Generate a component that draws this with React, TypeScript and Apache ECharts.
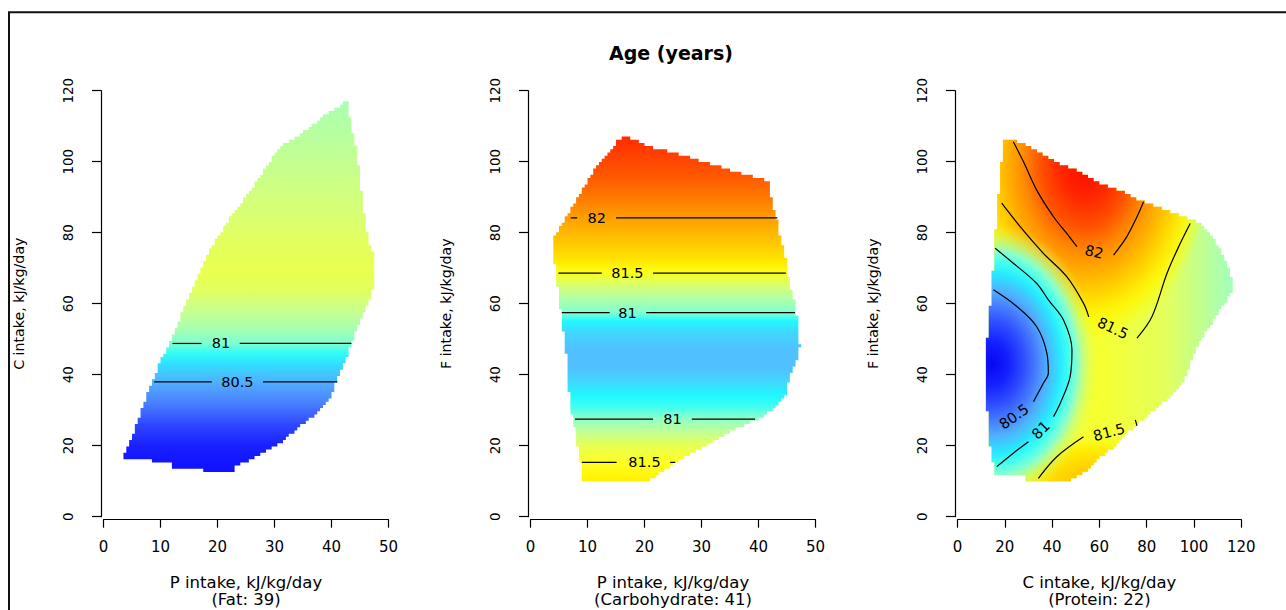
import React, { useEffect, useRef } from 'react';
import * as echarts from 'echarts';

const FONT = '"DejaVu Sans", Verdana, sans-serif';

// ---------- axes / texts ----------
const mainTitle = 'Age (years)';
const yMax = 120;
const yStep = 20;
const xMaxs = [50, 50, 120];
const xSteps = [10, 10, 20];
const xTitles = [
  'P intake, kJ/kg/day\n(Fat: 39)',
  'P intake, kJ/kg/day\n(Carbohydrate: 41)',
  'C intake, kJ/kg/day\n(Protein: 22)',
];
const yTitles = ['C intake, kJ/kg/day', 'F intake, kJ/kg/day', 'F intake, kJ/kg/day'];

// image cell size of the fitted surface (x units, y units) per panel
const cellX = [0.5, 0.5, 1.2];
const cellY = [0.9, 0.9, 0.9];

// ---------- panel 1 (P vs C) ----------
const p1Boundary: number[][] = [
  [42.8, 117.2], [43.2, 113], [44.5, 101.9], [45.6, 87.3], [46.5, 77.9], [47.7, 72.8], [47.7, 65.7],
  [46.2, 59.2], [44.5, 53.5], [43.6, 48.8], [42.7, 45], [40.9, 38], [39.8, 33.8], [37.4, 29.1],
  [34.5, 25.4], [31, 20.7], [26.9, 16.9], [22.9, 14.1], [22.9, 12.7], [17.7, 12.7], [17.7, 13.8],
  [12.1, 13.8], [12.1, 15], [8.3, 15], [8.3, 16.3], [3.6, 16.3], [3.6, 17.4], [5.3, 23.5],
  [6.7, 30.5], [8.2, 36.6], [9.6, 42.3], [12, 50.7], [14.3, 59.2], [17, 69.5], [19.3, 77],
  [22.8, 85.5], [26.3, 93], [29.8, 101.4], [31.6, 105.2], [34.5, 107.5], [39.2, 113.6],
];
const p1StopY = [13, 20, 26, 32, 38, 43, 46, 49, 53, 58, 64, 69, 78, 90, 105, 118];
const p1StopColor = [
  '#1010ff', '#1820ff', '#3048ff', '#4a80ff', '#50b0ff', '#30e0ff', '#30fcf8', '#80ffd0',
  '#a8ffb0', '#c8ff90', '#e2ff5c', '#eaff50', '#e2ff60', '#d2ff7e', '#bcff9a', '#a8ffb4',
];
const p1Contours: number[][][] = [
  [[12.1, 48.8], [17.2, 48.8]], [[23.9, 48.8], [43.5, 48.8]],
  [[8.9, 38.0], [19.0, 38.0]], [[28.0, 38.0], [41.0, 38.0]],
];
const p1LabelPos = [[20.6, 48.8], [23.5, 38.0]];
const p1LabelText = ['81', '80.5'];
const p1LabelRot = [0, 0];

// ---------- panel 2 (P vs F) ----------
const p2Boundary: number[][] = [
  [16.3, 107.5], [18.6, 106.1], [21.0, 104.2], [25.6, 102.4], [30.3, 100], [35, 97.7], [37.9, 96.3],
  [42, 94.4], [42.3, 89.2], [43.2, 84.5], [43.8, 78.9], [44.9, 72.3], [45.5, 64.8], [46.4, 60.1],
  [47, 54.5], [47.3, 47.9], [46.7, 44.1], [45.8, 40.4], [44.6, 33.8], [42.6, 30.1], [39.7, 27.2],
  [35.6, 24.4], [31.5, 20.7], [27.4, 16.9], [23.9, 13.6], [21, 10.3], [9.0, 10.3], [8.7, 16],
  [7.5, 27.2], [6.9, 31], [6.4, 44.1], [5.5, 55.4], [4.9, 62.9], [4.3, 70.4], [3.9, 76.1],
  [4.0, 78.4], [6.05, 83.6], [8.7, 91.1], [11.6, 98.6], [13.9, 102.8], [15.4, 106.1],
];
const p2StopY = [10, 15, 20, 24, 27.5, 31, 34, 38, 42, 47, 52, 55, 57.5, 62, 66, 69, 72, 77, 84, 90, 96, 102, 108];
const p2StopColor = [
  '#fff000', '#ffff20', '#e8ff50', '#c0ff98', '#90ffc8', '#40fff0', '#20f8ff', '#40d8ff', '#50c0ff',
  '#50c0ff', '#40d8ff', '#20f8ff', '#80ffd0', '#b8ffa0', '#e0ff60', '#fcff10', '#ffe800', '#ffc800',
  '#ffa000', '#ff7800', '#ff5800', '#ff4000', '#ff2800',
];
const p2Contours: number[][][] = [
  [[7.05, 84.2], [8.2, 84.2]], [[15.0, 84.2], [43.3, 84.2]],
  [[4.9, 68.6], [12.5, 68.6]], [[21.5, 68.6], [44.8, 68.6]],
  [[5.5, 57.5], [13.9, 57.5]], [[20.3, 57.5], [46.4, 57.5]],
  [[7.8, 27.5], [21.5, 27.5]], [[28.3, 27.5], [39.4, 27.5]],
  [[9.0, 15.3], [15.1, 15.3]], [[24.5, 15.3], [25.4, 15.3]],
];
const p2LabelPos = [[11.6, 84.2], [17.0, 68.6], [17.0, 57.5], [24.9, 27.5], [20.0, 15.3]];
const p2LabelText = ['82', '81.5', '81', '81', '81.5'];
const p2LabelRot = [0, 0, 0, 0, 0];

// ---------- panel 3 (C vs F) ----------
const p3Boundary: number[][] = [
  [19.4, 106.1], [23.5, 106.1], [27.9, 105.2], [36.3, 101.9], [44.8, 99.1], [51.9, 97.2], [60.3, 93.9],
  [71.6, 91.1], [78.7, 88.7], [88.6, 86.4], [97.0, 84.1], [102.7, 82.6], [106.9, 79.8], [111.1, 75.1],
  [115.4, 68.6], [116.8, 64.8], [114.0, 61.0], [108.3, 55.4], [101.3, 47.9], [95.6, 37.6], [88.6, 32.9],
  [80.1, 28.2], [71.6, 23.5], [64.6, 18.8], [57.5, 15.0], [54.7, 12.7], [47.6, 10.3], [41.3, 10.1],
  [29.3, 10.1], [29.3, 11.3], [15.9, 11.3], [13.8, 19.7], [12.1, 33.8], [12.4, 48.8], [14.5, 64.8],
  [15.9, 77.9], [18.0, 96.7], [19.4, 103.4],
];
// background colour across C intake
const p3BaseX = [12, 35, 60, 88, 117];
const p3BaseColor = ['#e2ff60', '#eeff48', '#f6ff30', '#e4ff5c', '#a0ffc0'];
// local extremes: high (orange, bottom), high (red, top), low (blue, left)
const p3BlobCenter = [[58.2, 8.1], [54, 99.1], [14.9, 43.2]];
const p3BlobRadius = [[46.6, 18.3], [52.9, 49.3], [44.5, 39.4]];
const p3BlobOffsets = [
  [0, 0.3, 0.6, 0.8, 1],
  [0, 0.2, 0.35, 0.5, 0.62, 0.75, 0.86, 1],
  [0, 0.15, 0.3, 0.42, 0.52, 0.64, 0.72, 0.8, 0.9, 1],
];
const p3BlobColors = [
  ['#ffb800', '#ffd000', '#ffee00', 'rgba(250,255,40,0.5)', 'rgba(250,255,40,0)'],
  ['#ff0800', '#ff2800', '#ff5000', '#ff8c00', '#ffb000', '#ffd800', 'rgba(255,245,0,0.85)', 'rgba(255,255,0,0)'],
  ['#0808f0', '#1420ff', '#3050ff', '#4880ff', '#50b0ff', '#28e8ff', '#40fff0', '#88ffd0', 'rgba(190,255,140,0.5)', 'rgba(230,255,80,0)'],
];
const p3Contours: number[][][] = [
  // 82
  [[23.6, 105.6], [27.9, 100], [33.5, 92], [40.6, 84.5], [46.2, 79.8], [50.5, 76.1]],
  [[66, 73.7], [71.6, 78.9], [75.9, 84.5], [78.7, 88.7]],
  // 81.5 upper
  [[18.7, 88.3], [26.5, 81.7], [36.3, 74.2], [46.2, 67.6], [53.3, 60.1], [55.5, 56.3]],
  [[75.9, 50.3], [82.2, 56.3], [88.6, 68.6], [94.2, 77], [98.4, 82.6]],
  // 81
  [[15.9, 75.6], [23.6, 71.4], [33.5, 65.7], [38.5, 61], [44.8, 55.4], [48.4, 47], [47.6, 39.4], [43.4, 31.9], [40.6, 28.2]],
  [[30, 21.1], [23.6, 17.9], [16.6, 14.1]],
  // 80.5
  [[15.2, 63.9], [25.1, 59.2], [33.5, 53.5], [37.8, 46], [38.4, 40.4], [36.3, 37.6], [32.1, 32.4]],
  // 81.5 lower
  [[34.2, 10.8], [42, 16.9], [53.3, 22.5]],
  [[75.2, 27.3], [75.9, 25.6]],
];
const p3LabelPos = [[57.8, 74.6], [65.7, 53.1], [35.2, 24.4], [23.9, 28.2], [64.1, 23.8]];
const p3LabelText = ['82', '81.5', '81', '80.5', '81.5'];
const p3LabelRot = [-13, -25, 45, 35, 15];

// ---------- layout ----------
const gridLeft = [103.5, 530.5, 957.5];
const gridWidth = [285, 285, 283.8];
const gridTop = 90.7;
const gridHeight = 426;

// Rasterise a boundary into the row/column cells of the image grid (staircase outline)
function staircase(boundary: number[][], dx: number, dy: number): number[][] {
  const ys = boundary.map((p) => p[1]);
  const minY = Math.min(...ys);
  const maxY = Math.max(...ys);
  const rows: number[][] = [];
  const n = boundary.length;
  for (let y = Math.floor(minY / dy) * dy; y < maxY; y += dy) {
    const yc = y + dy / 2;
    const xs: number[] = [];
    for (let i = 0; i < n; i++) {
      const a = boundary[i];
      const b = boundary[(i + 1) % n];
      if ((a[1] <= yc && b[1] > yc) || (b[1] <= yc && a[1] > yc)) {
        xs.push(a[0] + ((yc - a[1]) * (b[0] - a[0])) / (b[1] - a[1]));
      }
    }
    if (xs.length < 2) continue;
    const xl = Math.round(Math.min(...xs) / dx) * dx;
    const xr = Math.round(Math.max(...xs) / dx) * dx;
    if (xr <= xl) continue;
    rows.push([y, y + dy, xl, xr]);
  }
  const pts: number[][] = [];
  rows.forEach((r) => { pts.push([r[3], r[0]], [r[3], r[1]]); });
  for (let i = rows.length - 1; i >= 0; i--) {
    const r = rows[i];
    pts.push([r[2], r[1]], [r[2], r[0]]);
  }
  return pts;
}

function vGradientFill(api: any, ys: number[], colors: string[]) {
  const y0 = api.coord([0, 0])[1];
  const y1 = api.coord([0, yMax])[1];
  return new echarts.graphic.LinearGradient(
    0, y0, 0, y1,
    ys.map((y, i) => ({ offset: y / yMax, color: colors[i] })),
    true,
  );
}

function surfaceSeries(idx: number, boundary: number[][], ys: number[], colors: string[]) {
  const outline = staircase(boundary, cellX[idx], cellY[idx]);
  return {
    type: 'custom',
    coordinateSystem: 'cartesian2d',
    xAxisIndex: idx,
    yAxisIndex: idx,
    silent: true,
    z: 1,
    data: [[0, 0]],
    renderItem: (_p: any, api: any) => ({
      type: 'polygon',
      shape: { points: outline.map((p) => api.coord(p)) },
      style: { fill: vGradientFill(api, ys, colors), stroke: 'none' },
    }),
  };
}

function surface3Series() {
  const outline = staircase(p3Boundary, cellX[2], cellY[2]);
  return {
    type: 'custom',
    coordinateSystem: 'cartesian2d',
    xAxisIndex: 2,
    yAxisIndex: 2,
    silent: true,
    z: 1,
    data: [[0, 0]],
    renderItem: (_p: any, api: any) => {
      const pts = outline.map((p) => api.coord(p));
      const bx0 = api.coord([p3BaseX[0], 0])[0];
      const bx1 = api.coord([p3BaseX[p3BaseX.length - 1], 0])[0];
      const span = p3BaseX[p3BaseX.length - 1] - p3BaseX[0];
      const children: any[] = [
        {
          type: 'polygon',
          shape: { points: pts },
          style: {
            fill: new echarts.graphic.LinearGradient(
              bx0, 0, bx1, 0,
              p3BaseX.map((x, i) => ({ offset: (x - p3BaseX[0]) / span, color: p3BaseColor[i] })),
              true,
            ),
          },
        },
      ];
      p3BlobCenter.forEach((c, k) => {
        const [cx, cy] = api.coord(c);
        const sz = api.size(p3BlobRadius[k]);
        const rx = Math.abs(sz[0]);
        const ry = Math.abs(sz[1]);
        const s = ry / rx;
        children.push({
          type: 'polygon',
          originX: cx,
          originY: cy,
          scaleX: 1,
          scaleY: s,
          shape: { points: pts.map(([x, y]: number[]) => [x, cy + (y - cy) / s]) },
          style: {
            fill: new echarts.graphic.RadialGradient(
              cx, cy, rx,
              p3BlobOffsets[k].map((o, i) => ({ offset: o, color: p3BlobColors[k][i] })),
              true,
            ),
          },
        });
      });
      return { type: 'group', children };
    },
  };
}

function contourSeries(idx: number, segs: number[][][], smooth: boolean) {
  return segs.map((seg) => ({
    type: 'line',
    xAxisIndex: idx,
    yAxisIndex: idx,
    data: seg,
    symbol: 'none',
    showSymbol: false,
    smooth: smooth ? 0.35 : false,
    silent: true,
    z: 3,
    lineStyle: { color: '#000', width: 1.2 },
  }));
}

function labelSeries(idx: number, pos: number[][], texts: string[], rots: number[]) {
  return {
    type: 'custom',
    coordinateSystem: 'cartesian2d',
    xAxisIndex: idx,
    yAxisIndex: idx,
    silent: true,
    z: 4,
    data: pos.map((p, j) => [p[0], p[1], j]),
    renderItem: (_p: any, api: any) => {
      const j = api.value(2);
      const [x, y] = api.coord([api.value(0), api.value(1)]);
      return {
        type: 'text',
        x,
        y,
        rotation: (rots[j] * Math.PI) / 180,
        style: {
          text: texts[j],
          fontSize: 14.5,
          fontFamily: FONT,
          fill: '#000',
          align: 'center',
          verticalAlign: 'middle',
        },
      };
    },
  };
}

function buildOption() {
  const idxs = [0, 1, 2];
  return {
    animation: false,
    backgroundColor: '#fff',
    title: {
      text: mainTitle,
      left: 671,
      top: 43,
      padding: 0,
      textAlign: 'center',
      textStyle: { fontFamily: FONT, fontSize: 19, fontWeight: 'bold', color: '#000' },
    },
    graphic: [
      {
        type: 'rect',
        shape: { x: 9, y: 12.3, width: 1400, height: 700 },
        style: { fill: 'none', stroke: '#111', lineWidth: 2 },
        silent: true,
      },
    ],
    grid: idxs.map((i) => ({
      left: gridLeft[i],
      top: gridTop,
      width: gridWidth[i],
      height: gridHeight,
      containLabel: false,
      outerBoundsMode: 'none',
    })),
    xAxis: idxs.map((i) => ({
      type: 'value',
      gridIndex: i,
      min: 0,
      max: xMaxs[i],
      interval: xSteps[i],
      offset: 3,
      axisLine: { show: true, onZero: false, lineStyle: { color: '#000', width: 1.2 } },
      axisTick: { show: true, length: 8, lineStyle: { color: '#000', width: 1.2 } },
      axisLabel: { fontSize: 15, fontFamily: FONT, color: '#000', margin: 20, showMinLabel: true, showMaxLabel: true },
      splitLine: { show: false },
      name: xTitles[i],
      nameLocation: 'middle',
      nameGap: 54,
      nameTextStyle: { fontSize: 16.5, lineHeight: 17.5, fontFamily: FONT, color: '#000' },
    })),
    yAxis: idxs.map((i) => ({
      type: 'value',
      gridIndex: i,
      min: 0,
      max: yMax,
      interval: yStep,
      offset: 2.5,
      axisLine: { show: true, onZero: false, lineStyle: { color: '#000', width: 1.2 } },
      axisTick: { show: true, length: 9, lineStyle: { color: '#000', width: 1.2 } },
      axisLabel: { rotate: 90, fontSize: 13.5, fontFamily: FONT, color: '#000', margin: 26.5, showMinLabel: true, showMaxLabel: true },
      splitLine: { show: false },
      name: yTitles[i],
      nameLocation: 'middle',
      nameGap: 75,
      nameTextStyle: { fontSize: 14.2, fontFamily: FONT, color: '#000' },
    })),
    series: [
      surfaceSeries(0, p1Boundary, p1StopY, p1StopColor),
      surfaceSeries(1, p2Boundary, p2StopY, p2StopColor),
      surface3Series(),
      ...contourSeries(0, p1Contours, false),
      ...contourSeries(1, p2Contours, false),
      ...contourSeries(2, p3Contours, true),
      labelSeries(0, p1LabelPos, p1LabelText, p1LabelRot),
      labelSeries(1, p2LabelPos, p2LabelText, p2LabelRot),
      labelSeries(2, p3LabelPos, p3LabelText, p3LabelRot),
    ],
  };
}

export default function App() {
  const ref = useRef<HTMLDivElement>(null);
  useEffect(() => {
    if (!ref.current) return;
    const chart = echarts.init(ref.current, null, { renderer: 'svg' });
    chart.setOption(buildOption() as any);
    return () => chart.dispose();
  }, []);
  return (
    <div
      ref={ref}
      style={{ position: 'absolute', left: 0, top: 0, width: 1286, height: 610, background: '#fff' }}
    />
  );
}
